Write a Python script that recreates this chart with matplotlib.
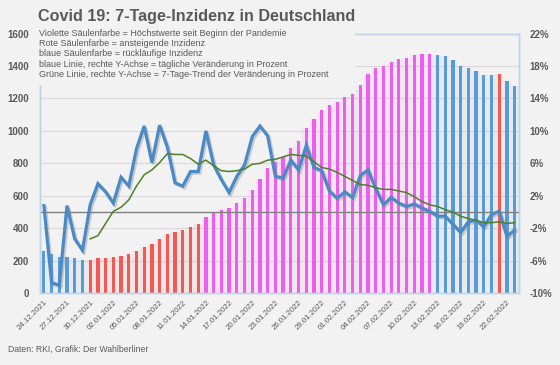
import matplotlib
matplotlib.use('Agg')
import matplotlib.pyplot as plt
import matplotlib.patheffects as pe
from matplotlib.patches import Rectangle
import numpy as np

plt.rcParams['font.family'] = ['Liberation Sans', 'DejaVu Sans']

dates = [
    "24.12.2021", "25.12.2021", "26.12.2021", "27.12.2021", "28.12.2021", "29.12.2021",
    "30.12.2021", "31.12.2021", "01.01.2022", "02.01.2022", "03.01.2022", "04.01.2022",
    "05.01.2022", "06.01.2022", "07.01.2022", "08.01.2022", "09.01.2022", "10.01.2022",
    "11.01.2022", "12.01.2022", "13.01.2022", "14.01.2022", "15.01.2022", "16.01.2022",
    "17.01.2022", "18.01.2022", "19.01.2022", "20.01.2022", "21.01.2022", "22.01.2022",
    "23.01.2022", "24.01.2022", "25.01.2022", "26.01.2022", "27.01.2022", "28.01.2022",
    "29.01.2022", "30.01.2022", "31.01.2022", "01.02.2022", "02.02.2022", "03.02.2022",
    "04.02.2022", "05.02.2022", "06.02.2022", "07.02.2022", "08.02.2022", "09.02.2022",
    "10.02.2022", "11.02.2022", "12.02.2022", "13.02.2022", "14.02.2022", "15.02.2022",
    "16.02.2022", "17.02.2022", "18.02.2022", "19.02.2022", "20.02.2022", "21.02.2022",
    "22.02.2022", "23.02.2022",
]

incidence = [
    263.0, 242.9, 220.7, 222.4, 215.6, 205.5,
    207.4, 214.9, 220.3, 222.7, 232.4, 239.9, 258.6, 285.9, 303.4, 335.9, 362.7, 375.7,
    387.9, 407.5, 427.7,
    470.6, 497.1, 515.7, 528.2, 553.2, 584.4, 638.8, 706.3, 772.7, 806.8, 840.3, 894.3,
    940.6, 1017.4, 1073.0, 1127.7, 1156.8, 1176.8, 1206.2, 1227.5, 1283.2, 1349.5, 1388.0,
    1400.8, 1426.0, 1441.0, 1450.8, 1465.4, 1472.2, 1474.3,
    1466.5, 1459.8, 1437.5, 1401.0, 1385.1, 1371.7, 1346.8, 1346.3,
    1350.0, 1306.8, 1278.9,
]

# b = rückläufig (blau), r = ansteigend (rot), v = Höchstwert (violett)
bar_class = (["b"] * 6 + ["r"] * 15 + ["v"] * 30 + ["b"] * 8 + ["r"] + ["b"] * 2)

daily_change = [
    0.8, -8.7, -9.0, 0.8, -3.3, -4.7,
    0.9, 3.5, 2.5, 1.1, 4.3, 3.2, 7.8, 10.6, 6.1, 10.7, 8.0, 3.6, 3.2, 5.0, 5.0,
    10.0, 5.8, 4.0, 2.4, 4.4, 5.8, 9.3, 10.6, 9.4, 4.4, 4.2, 6.4, 5.2, 8.2, 5.5, 5.1,
    2.6, 1.7, 2.5, 1.8, 4.5, 5.2, 2.9, 0.9, 1.8, 1.1, 0.7, 1.0, 0.5, 0.1,
    -0.5, -0.5, -1.5, -2.5, -1.2, -1.0, -1.8, -0.3, 0.1, -3.0, -2.2,
]

trend_start = 6
trend_7day = [
    -3.3, -2.9, -1.4, 0.1, 0.6, 1.5, 3.2, 4.6, 5.2, 6.1, 7.2, 7.1, 7.1, 6.6, 5.9,
    6.4, 5.7, 5.1, 5.0, 5.1, 5.3, 5.9, 6.0, 6.4, 6.5, 6.8, 7.1, 7.0, 6.9, 6.2, 5.5,
    5.3, 4.9, 4.4, 3.9, 3.4, 3.3, 3.0, 2.8, 2.8, 2.6, 2.4, 1.9, 1.3, 0.9, 0.7, 0.3,
    0.0, -0.5, -0.8, -1.0, -1.3, -1.3, -1.2, -1.4, -1.3,
]

left_ticks = [0, 200, 400, 600, 800, 1000, 1200, 1400, 1600]
right_ticks = [-10, -6, -2, 2, 6, 10, 14, 18, 22]

title = "Covid 19: 7-Tage-Inzidenz in Deutschland"
legend_lines = [
    "Violette Säulenfarbe = Höchstwerte seit Beginn der Pandemie",
    "Rote Säulenfarbe = ansteigende Inzidenz",
    "blaue Säulenfarbe = rückläufige Inzidenz",
    "blaue Linie, rechte Y-Achse = tägliche Veränderung in Prozent",
    "Grüne Linie, rechte Y-Achse = 7-Tage-Trend der Veränderung in Prozent",
]
source = "Daten: RKI, Grafik: Der Wahlberliner"

BG = '#F2F2F2'
TXT = '#595959'
palette = {"b": '#5B9BD5', "r": '#EE5A55', "v": '#EE5EEE'}
cols = [palette[c] for c in bar_class]

W, H = 560, 365
fig = plt.figure(figsize=(W / 100, H / 100), dpi=100, facecolor=BG)
ax = fig.add_axes([40 / W, 1 - 293.3 / H, (518.5 - 40) / W, (293.3 - 33.5) / H])
ax.set_facecolor(BG)

x = np.arange(len(dates))
ax.bar(x, incidence, width=1.0, color=cols, alpha=0.08, zorder=1.5, linewidth=0)
ax.bar(x, incidence, width=0.42, color=cols, zorder=2, linewidth=0)
ax.set_xlim(-0.5, len(dates) - 0.5)
ax.set_ylim(0, 1600)
ax.set_yticks(left_ticks)
ax.set_yticklabels([str(v) for v in left_ticks])
ax.yaxis.grid(True, color='#D9D9D9', lw=0.8)
ax.set_axisbelow(True)
ax.tick_params(axis='y', length=0, pad=8, labelsize=7, labelcolor=TXT)
for t in ax.get_yticklabels():
    t.set_fontweight('bold')

ax.set_xticks(x[::3])
ax.set_xticklabels(dates[::3], rotation=45, ha='right', rotation_mode='anchor',
                   fontsize=5.6, color=TXT)
ax.tick_params(axis='x', length=0, pad=4)

for s in ax.spines.values():
    s.set_color('#BFD4E8')
    s.set_linewidth(1.0)

ax2 = ax.twinx()
ax2.set_ylim(-10, 22)
ax2.set_yticks(right_ticks)
ax2.set_yticklabels([f"{v}%" for v in right_ticks])
ax2.tick_params(axis='y', length=0, pad=8, labelsize=7, labelcolor=TXT)
for t in ax2.get_yticklabels():
    t.set_fontweight('bold')
for s in ax2.spines.values():
    s.set_color('#BFD4E8')
    s.set_linewidth(1.0)

ax2.axhline(0, color='#808080', lw=1.0, zorder=1)
ax2.plot(x, daily_change, color='#4A8AC6', lw=2.3, zorder=3, solid_joinstyle='miter',
         path_effects=[pe.SimpleLineShadow(offset=(1.2, -1.2), shadow_color='#7F7F7F', alpha=0.35),
                       pe.Normal()])
ax2.plot(x[trend_start:trend_start + len(trend_7day)], trend_7day, color='#4E7F2A', lw=1.1, zorder=4)

# opaque text box in the upper left
rect = Rectangle((34 / W, 1 - 85 / H), (355 - 34) / W, 85 / H, transform=fig.transFigure,
                 facecolor=BG, edgecolor='none', zorder=5)
fig.patches.append(rect)
fig.text(38 / W, 1 - 17 / H, title, fontsize=11.6, fontweight='bold', color=TXT,
         va='center', ha='left', zorder=6)
ys = [33.3, 43.5, 53.7, 64.2, 74.2]
for yy, line in zip(ys, legend_lines):
    fig.text(39 / W, 1 - yy / H, line, fontsize=6.5, color=TXT, va='center', ha='left', zorder=6)

fig.text(8 / W, 1 - 349 / H, source, fontsize=6.2, color=TXT, va='center', ha='left')

fig.savefig('out.png', dpi=100, facecolor=BG)
